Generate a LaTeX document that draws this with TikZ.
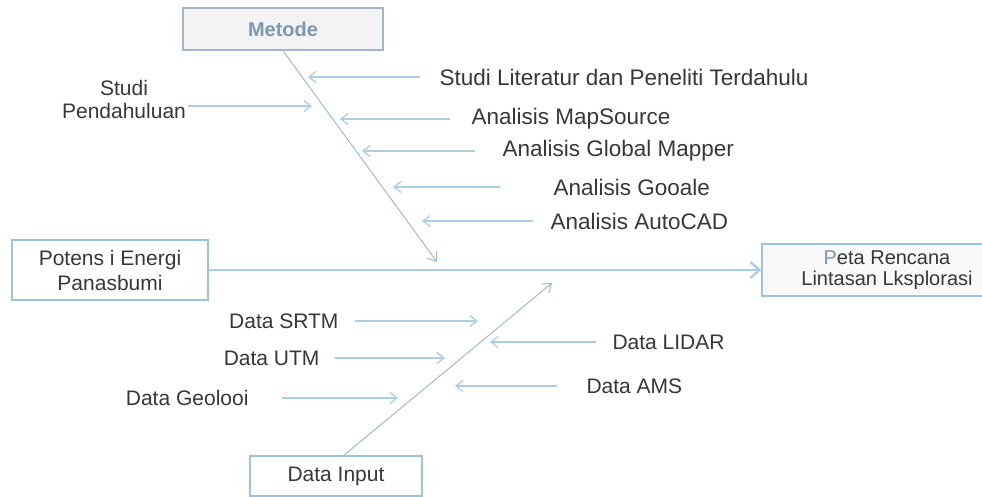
\documentclass[tikz,border=0pt]{standalone}
\usepackage{fontspec}
\setmainfont{Liberation Sans}
\usetikzlibrary{arrows.meta,positioning}
\definecolor{ribblue}{RGB}{172,206,226}
\definecolor{boxblue}{RGB}{158,194,218}
\definecolor{metodeblue}{RGB}{125,152,176}
\definecolor{labelgray}{RGB}{55,55,55}
\definecolor{boxfill}{RGB}{243,243,243}

\begin{document}
\begin{tikzpicture}[x=1pt, y=-1pt,
    every node/.style={font=\fontsize{21}{24}\selectfont, text=labelgray},
    biglabel/.style={font=\fontsize{22.5}{26}\selectfont},
    rib/.style={ribblue, line width=1.3pt, -{Straight Barb[length=7pt,width=11pt]}},
    spine/.style={ribblue!75!gray, line width=1pt, -{Straight Barb[length=8pt,width=12pt]}},
    mainline/.style={ribblue, line width=2.4pt, -{Straight Barb[length=9pt,width=16pt]}},
    fishbox/.style={draw=boxblue, line width=1.6pt, inner sep=0pt, align=center}]
  \useasboundingbox (0,0) rectangle (982,497);

  % head, tail and the two bones
  \node[fishbox, draw=metodeblue!70, fill=boxfill, minimum width=200pt, minimum height=42pt,
        text=metodeblue, font=\bfseries\fontsize{20}{24}\selectfont] (metode) at (283,29) {Metode};
  \node[fishbox, minimum width=196pt, minimum height=60pt,
        font=\fontsize{21}{25}\selectfont] (potensi) at (110,270) {Potens i Energi\\Panasbumi};
  \node[fishbox, fill=boxfill!50, minimum width=250pt, minimum height=52pt,
        font=\fontsize{20}{21}\selectfont] (peta) at (887,270)
        {{\color{metodeblue}P}eta Rencana\\Lintasan Lksplorasi};
  \node[fishbox, minimum width=172pt, minimum height=40pt] (datain) at (336,476) {Data Input};

  \coordinate (topspine) at (437,262);
  \coordinate (botspine) at (552,283);
  \draw[mainline] (potensi.east) -- (peta.west);
  \draw[spine] (metode.south) -- (topspine);
  \draw[spine] ([xshift=8pt]datain.north) -- (botspine);

  % ribs with their label on the right
  \foreach \name/\ty/\xs/\xe/\xt/\txt in {
      lit/77/420/308/436/Studi Literatur dan Peneliti Terdahulu,
      mapsrc/119/450/340/468/Analisis MapSource,
      gmap/151/475/362/499/Analisis Global Mapper,
      google/187/500/393/550/Analisis Gooale,
      acad/221/533/422/547/Analisis AutoCAD} {
    \node[biglabel, anchor=west] (\name) at (\xt,\ty) {\txt};
    \coordinate (\name tail) at (\xs,\ty);
    \coordinate (\name tip) at (\xe,\ty);
    \draw[rib] (\name tail) -- (\name tip);
  }
  \foreach \name/\ty/\xs/\xe/\xt/\txt in {
      lidar/342/596/490/609/Data LIDAR,
      ams/386/557/455/583/Data AMS} {
    \node[anchor=west] (\name) at (\xt,\ty) {\txt};
    \coordinate (\name tail) at (\xs,\ty);
    \coordinate (\name tip) at (\xe,\ty);
    \draw[rib] (\name tail) -- (\name tip);
  }

  % ribs with their label on the left
  \foreach \name/\ty/\xs/\xe/\xt/\txt in {
      srtm/321/355/478/342/Data SRTM,
      utm/358/335/445/323/Data UTM,
      geo/398/282/398/252/Data Geolooi} {
    \node[anchor=east] (\name) at (\xt,\ty) {\txt};
    \coordinate (\name tail) at (\xs,\ty);
    \coordinate (\name tip) at (\xe,\ty);
    \draw[rib] (\name tail) -- (\name tip);
  }

  \node[align=center, font=\fontsize{21}{23}\selectfont] (studi) at (124,99) {Studi\\Pendahuluan};
  \coordinate (studitail) at (188,106);
  \coordinate (studitip) at (312,106);
  \draw[rib] (studitail) -- (studitip);
\end{tikzpicture}
\end{document}
